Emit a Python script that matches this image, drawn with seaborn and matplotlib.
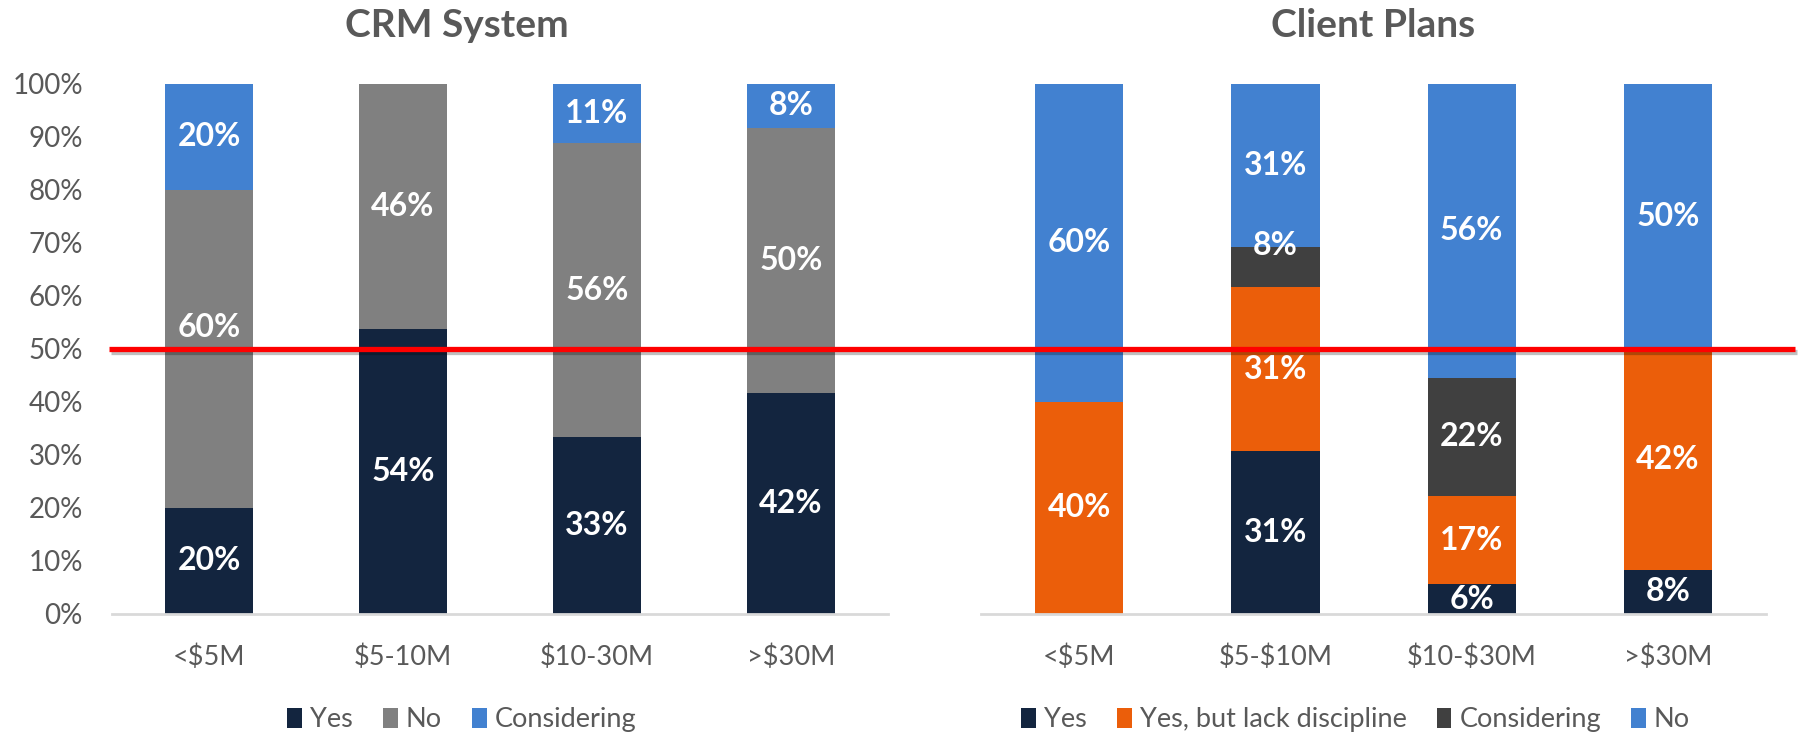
import numpy as np
import pandas as pd
import matplotlib
matplotlib.use("Agg")
import matplotlib.pyplot as plt
import seaborn as sns
from matplotlib.lines import Line2D
from matplotlib.patches import Patch
import matplotlib.patheffects as pe
import matplotlib.transforms as mtransforms

# ---------------- data ----------------
crm_categories = ["<$5M", "$5-10M", "$10-30M", ">$30M"]
crm_series_names = ["Yes", "No", "Considering"]
crm_yes = [20.0, 53.8, 33.3, 41.7]
crm_no = [60.0, 46.2, 55.6, 50.0]
crm_considering = [20.0, 0.0, 11.1, 8.3]

plans_categories = ["<$5M", "$5-$10M", "$10-$30M", ">$30M"]
plans_series_names = ["Yes", "Yes, but lack discipline", "Considering", "No"]
plans_yes = [0.0, 30.8, 5.6, 8.3]
plans_yes_lack = [40.0, 30.8, 16.7, 41.7]
plans_considering = [0.0, 7.7, 22.2, 0.0]
plans_no = [60.0, 30.8, 55.6, 50.0]

y_ticks = [0, 10, 20, 30, 40, 50, 60, 70, 80, 90, 100]
threshold = 50

# ---------------- style ----------------
NAVY = "#13253F"
GREY = "#808080"
BLUE = "#4281D0"
ORANGE = "#EB5E0A"
DARK = "#404040"
TEXT = "#595959"

sns.set_style("white")
plt.rcParams["font.family"] = ["Lato", "DejaVu Sans"]
plt.rcParams["text.parse_math"] = False

fig = plt.figure(figsize=(18.04, 7.36), dpi=100)
ax1 = fig.add_axes([0.0621, 0.1658, 0.4301, 0.7201])
ax2 = fig.add_axes([0.5438, 0.1658, 0.4352, 0.7201])


def stacked(ax, cats, series, colors, shifts):
    series = np.array(series, dtype=float)
    cum = np.cumsum(series, axis=0)
    for i in reversed(range(len(series))):
        df = pd.DataFrame({"cat": cats, "val": cum[i]})
        sns.barplot(data=df, x="cat", y="val", order=cats, color=colors[i],
                    saturation=1, width=0.45, errorbar=None, ax=ax,
                    linewidth=0)
    for i in range(len(series)):
        for j in range(len(cats)):
            v = series[i][j]
            if v <= 0:
                continue
            y = cum[i][j] - v / 2 + shifts.get((i, j), 0)
            ax.text(j, y, f"{v:.0f}%", ha="center", va="center",
                    color="white", fontsize=23, fontweight="bold", zorder=6)
    ax.set_xlim(-0.5, len(cats) - 0.5)
    ax.set_ylim(0, 100)
    ax.set_xlabel("")
    ax.set_ylabel("")
    for s in ["top", "right", "left"]:
        ax.spines[s].set_visible(False)
    ax.spines["bottom"].set_color("#D9D9D9")
    ax.spines["bottom"].set_linewidth(2)
    ax.tick_params(axis="x", length=0, pad=22, labelsize=19.5, labelcolor=TEXT)
    ax.tick_params(axis="y", length=0, pad=21, labelsize=20, labelcolor=TEXT)
    ax.grid(False)


stacked(ax1, crm_categories, [crm_yes, crm_no, crm_considering],
        [NAVY, GREY, BLUE], {(1, 0): 4})
stacked(ax2, plans_categories,
        [plans_yes, plans_yes_lack, plans_considering, plans_no],
        [NAVY, ORANGE, DARK, BLUE], {(2, 1): 4})

ax1.set_yticks(y_ticks)
ax1.set_yticklabels([f"{t}%" for t in y_ticks])
ax2.set_yticks([])

# threshold line across the whole figure
trans = mtransforms.blended_transform_factory(fig.transFigure, ax1.transData)
line = Line2D([0.0604, 0.995], [threshold, threshold], transform=trans,
              color="#FF0000", linewidth=3.8, zorder=5, solid_capstyle="butt",
              path_effects=[pe.SimpleLineShadow(offset=(1.5, -2.5), alpha=0.25),
                            pe.Normal()])
fig.add_artist(line)

# titles
fig.text(0.253, 0.966, "CRM System", ha="center", va="center",
         fontsize=28, fontweight="bold", color=TEXT)
fig.text(0.761, 0.966, "Client Plans", ha="center", va="center",
         fontsize=28, fontweight="bold", color=TEXT)

# legends
leg_kw = dict(loc="center", frameon=False, fontsize=19.5, labelcolor=TEXT,
              handlelength=0.55, handleheight=0.75, handletextpad=0.3,
              columnspacing=1.1)
h1 = [Patch(facecolor=c, edgecolor="none") for c in [NAVY, GREY, BLUE]]
fig.legend(h1, crm_series_names, bbox_to_anchor=(0.256, 0.022), ncol=3,
           **leg_kw)
h2 = [Patch(facecolor=c, edgecolor="none") for c in [NAVY, ORANGE, DARK, BLUE]]
fig.legend(h2, plans_series_names, bbox_to_anchor=(0.7515, 0.022), ncol=4,
           **leg_kw)

fig.savefig("out.png", dpi=100, facecolor="white")
